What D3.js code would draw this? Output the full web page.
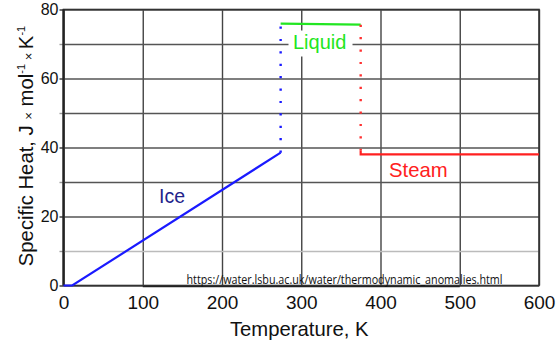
<!DOCTYPE html>
<html>
<head>
<meta charset="utf-8">
<script src="https://cdn.jsdelivr.net/npm/d3@7"></script>
<style>
    body { margin: 0; background: #fff; }
    svg { display: block; font-family: Arial, "Liberation Sans", sans-serif; }
</style>
</head>
<body>
<div id="chart"></div>
<script>
    "use strict";

    // data (T in K, Cp in J/mol/K)
    var iceT = [0, 11, 274];
    var iceCp = [0, 0, 38.5];
    var liquidT = [274, 375];
    var liquidCp = [75.9, 75.6];
    var steamT = [375, 375, 600];
    var steamCp = [39.2, 38, 38];
    var meltT = [274, 274];
    var meltCp = [38.5, 75.9];
    var boilT = [375, 375];
    var boilCp = [75.6, 39.2];
    var xTicks = [0, 100, 200, 300, 400, 500, 600];
    var yTicks = [0, 20, 40, 60, 80];
    var yGrid = [0, 10, 20, 30, 40, 50, 60, 70, 80];

    var svgWidth = 557, svgHeight = 343;
    var margin = { top: 9.5, right: 18, bottom: 57.5, left: 63.5 };
    var chartWidth = svgWidth - margin.left - margin.right;
    var chartHeight = svgHeight - margin.top - margin.bottom;

    var svg = d3.select('#chart').append('svg')
        .attr('width', svgWidth)
        .attr('height', svgHeight);

    var g = svg.append('g')
        .attr('transform', 'translate(' + [margin.left, margin.top] + ')');

    var xScale = d3.scaleLinear().domain([0, 600]).range([0, chartWidth]);
    var yScale = d3.scaleLinear().domain([0, 80]).range([chartHeight, 0]);

    function pts(xs, ys) {
        return xs.map(function (v, i) { return [v, ys[i]]; });
    }
    var line = d3.line()
        .x(function (d) { return xScale(d[0]); })
        .y(function (d) { return yScale(d[1]); });

    //grid
    g.append('g')
        .attr('transform', 'translate(0,' + chartHeight + ')')
        .call(d3.axisBottom(xScale).tickValues(xTicks).tickSizeInner(-chartHeight).tickSizeOuter(0).tickFormat(''))
        .call(function (s) {
            s.select('.domain').remove();
            s.selectAll('line').attr('stroke', '#444').attr('stroke-width', 1.4);
        });
    g.append('g')
        .call(d3.axisLeft(yScale).tickValues(yGrid).tickSizeInner(-chartWidth).tickSizeOuter(0).tickFormat(''))
        .call(function (s) {
            s.select('.domain').remove();
            s.selectAll('line')
                .attr('stroke', function (d) { return d === 10 ? '#bbb' : '#555'; })
                .attr('stroke-width', 1.4);
        });

    //left ticks
    g.append('g')
        .call(d3.axisLeft(yScale).tickValues(yGrid).tickSizeInner(4).tickSizeOuter(0).tickFormat(''))
        .call(function (s) {
            s.select('.domain').remove();
            s.selectAll('line').attr('stroke', function (d) { return d % 20 ? '#999' : '#333'; }).attr('stroke-width', 1.4);
        });

    //frame
    g.append('rect')
        .attr('width', chartWidth)
        .attr('height', chartHeight)
        .attr('fill', 'none')
        .attr('stroke', '#333')
        .attr('stroke-width', 1.6);
    g.append('line')
        .attr('x1', 0).attr('x2', 0)
        .attr('y1', 0).attr('y2', chartHeight)
        .attr('stroke', '#222').attr('stroke-width', 2.2);

    //tick labels
    g.append('g')
        .attr('transform', 'translate(0,' + chartHeight + ')')
        .call(d3.axisBottom(xScale).tickValues(xTicks).tickSize(0).tickPadding(10))
        .call(function (s) {
            s.select('.domain').remove();
            s.selectAll('text').attr('font-size', 19).attr('font-family', 'Arial').attr('fill', '#111');
        });
    g.append('g')
        .call(d3.axisLeft(yScale).tickValues(yTicks).tickSize(0).tickPadding(5))
        .call(function (s) {
            s.select('.domain').remove();
            s.selectAll('text').attr('font-size', 16).attr('font-family', 'Arial').attr('fill', '#111');
        });

    //watermark
    g.append('line')
        .attr('x1', xScale(100)).attr('x2', xScale(500))
        .attr('y1', chartHeight + 1).attr('y2', chartHeight + 1)
        .attr('stroke', '#222').attr('stroke-width', 1.5);
    g.append('text')
        .attr('x', 123)
        .attr('y', chartHeight - 2)
        .attr('font-family', '"Open Sans", sans-serif')
        .attr('font-size', 12.5)
        .attr('textLength', 316)
        .attr('lengthAdjust', 'spacingAndGlyphs')
        .attr('fill', '#111')
        .text('https://water.lsbu.ac.uk/water/thermodynamic_anomalies.html');

    //Liquid label background
    g.append('rect')
        .attr('x', 225).attr('y', 21)
        .attr('width', 64).attr('height', 26)
        .attr('fill', '#fff');

    //phase lines
    g.append('path').datum(pts(iceT, iceCp))
        .attr('d', line).attr('fill', 'none').attr('stroke', '#1a1aff').attr('stroke-width', 2.2);
    g.append('path').datum(pts(liquidT, liquidCp))
        .attr('d', line).attr('fill', 'none').attr('stroke', '#22e622').attr('stroke-width', 2.2);
    g.append('path').datum(pts(steamT, steamCp))
        .attr('d', line).attr('fill', 'none').attr('stroke', '#ff2020').attr('stroke-width', 2.2);
    g.append('path').datum(pts(meltT, meltCp))
        .attr('d', line).attr('fill', 'none').attr('stroke', '#1a1aff').attr('stroke-width', 2.4)
        .attr('stroke-dasharray', '2.2,10.2');
    g.append('path').datum(pts(boilT, boilCp))
        .attr('d', line).attr('fill', 'none').attr('stroke', '#ff3030').attr('stroke-width', 2.4)
        .attr('stroke-dasharray', '2.2,10.2');

    //labels
    g.append('text').attr('x', 95.5).attr('y', 193.5)
        .attr('font-size', 19.5).attr('fill', '#23238a').text('Ice');
    g.append('text').attr('x', 229.5).attr('y', 39.8)
        .attr('font-size', 20).attr('fill', '#22e622').text('Liquid');
    g.append('text').attr('x', 325.5).attr('y', 167.2)
        .attr('font-size', 20.3).attr('fill', '#ff2020').text('Steam');

    //axis titles
    svg.append('text')
        .attr('x', margin.left + xScale(300) - 2)
        .attr('y', 336)
        .attr('text-anchor', 'middle')
        .attr('font-size', 20.3)
        .attr('fill', '#111')
        .text('Temperature, K');

    var yTitle = svg.append('text')
        .attr('transform', 'translate(33,146) rotate(-90)')
        .attr('text-anchor', 'middle')
        .attr('font-size', 20.3)
        .attr('fill', '#111');
    yTitle.append('tspan').text('Specific Heat, J ');
    yTitle.append('tspan').attr('font-size', 13).text('×');
    yTitle.append('tspan').text(' mol');
    yTitle.append('tspan').attr('font-size', 11).attr('dy', -8).text('-1');
    yTitle.append('tspan').attr('font-size', 13).attr('dy', 8).text(' × ');
    yTitle.append('tspan').text('K');
    yTitle.append('tspan').attr('font-size', 11).attr('dy', -8).text('-1');
</script>
</body>
</html>
